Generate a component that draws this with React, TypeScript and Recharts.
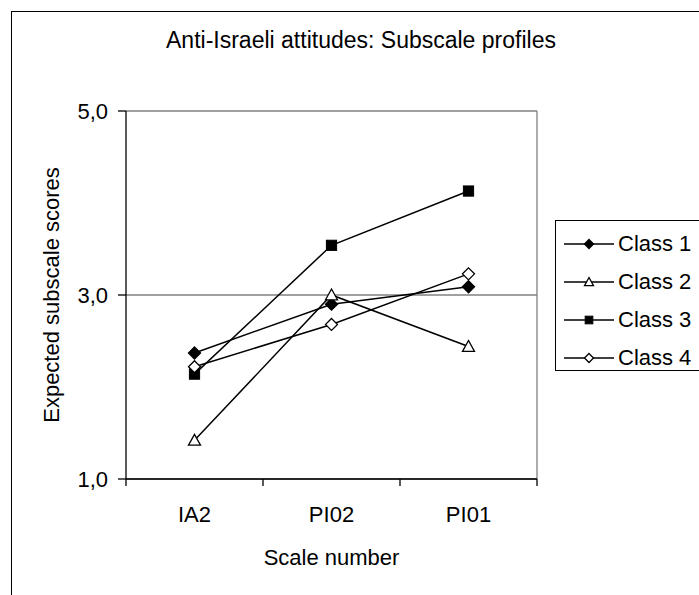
import { LineChart, Line, XAxis, YAxis, CartesianGrid, Legend } from 'recharts';

const categories = ['IA2', 'PI02', 'PI01'];
const class1 = [2.37, 2.9, 3.09];
const class2 = [1.42, 3.0, 2.44];
const class3 = [2.14, 3.54, 4.13];
const class4 = [2.22, 2.68, 3.23];
const yTicks = [1, 3, 5];

const seriesNames = ['Class 1', 'Class 2', 'Class 3', 'Class 4'];

const data = categories.map((c, i) => ({
  name: c,
  'Class 1': class1[i],
  'Class 2': class2[i],
  'Class 3': class3[i],
  'Class 4': class4[i],
}));

const FONT = '"Liberation Sans", Arial, sans-serif';
const W = 699;
const H = 595;
const PLOT_LEFT = 126;
const PLOT_RIGHT = 537;
const PLOT_TOP = 111;
const PLOT_BOTTOM = 479;
const BAND = (PLOT_RIGHT - PLOT_LEFT) / categories.length;

// marker shapes, excel style
function Marker({ kind, cx, cy, s }: { kind: string; cx: number; cy: number; s: number }) {
  if (kind === 'Class 1' || kind === 'Class 4') {
    const pts = `${cx},${cy - s} ${cx + s},${cy} ${cx},${cy + s} ${cx - s},${cy}`;
    return <polygon points={pts} fill={kind === 'Class 1' ? '#000' : '#fff'} stroke="#000" strokeWidth={1.3} />;
  }
  if (kind === 'Class 2') {
    const pts = `${cx},${cy - s} ${cx + s},${cy + s * 0.8} ${cx - s},${cy + s * 0.8}`;
    return <polygon points={pts} fill="#fff" stroke="#000" strokeWidth={1.3} />;
  }
  return <rect x={cx - s * 0.85} y={cy - s * 0.85} width={s * 1.7} height={s * 1.7} fill="#000" stroke="#000" />;
}

const makeDot = (kind: string) => (props: any) => {
  const { cx, cy, index } = props;
  if (cx == null || cy == null) return <g key={index} />;
  return (
    <g key={`${kind}-${index}`}>
      <Marker kind={kind} cx={cx} cy={cy} s={6} />
    </g>
  );
};

function XTick(props: any) {
  const { x, y, payload, index } = props;
  const last = index === categories.length - 1;
  return (
    <g>
      <line x1={x - BAND / 2} y1={y} x2={x - BAND / 2} y2={y + 7} stroke="#000" strokeWidth={1.3} />
      {last && <line x1={x + BAND / 2} y1={y} x2={x + BAND / 2} y2={y + 7} stroke="#000" strokeWidth={1.3} />}
      <text x={x} y={y + 43} textAnchor="middle" fontSize={22} fontFamily={FONT} fill="#000">
        {payload.value}
      </text>
    </g>
  );
}

function LegendBox(props: any) {
  const { payload } = props;
  return (
    <div
      style={{
        border: '1.5px solid #000',
        background: '#fff',
        width: 170,
        height: 151,
        boxSizing: 'border-box',
        paddingTop: 4,
      }}
    >
      {(payload || []).map((p: any) => (
        <div key={p.value} style={{ display: 'flex', alignItems: 'center', height: 38 }}>
          <svg width={62} height={20} style={{ marginLeft: 8 }}>
            <line x1={0} y1={10} x2={50} y2={10} stroke="#000" strokeWidth={1.5} />
            <Marker kind={p.value} cx={25} cy={10} s={4.5} />
          </svg>
          <span style={{ fontSize: 22, fontFamily: FONT, color: '#000', marginLeft: -8 }}>{p.value}</span>
        </div>
      ))}
    </div>
  );
}

export default function App() {
  return (
    <div style={{ position: 'absolute', left: 0, top: 0, width: W, height: H, overflow: 'hidden', background: '#fff' }}>
      <div
        style={{
          position: 'absolute',
          left: 11,
          top: 11,
          width: 800,
          height: 800,
          border: '1.5px solid #000',
        }}
      />
      <div
        style={{
          position: 'absolute',
          left: 0,
          top: 27,
          width: 722,
          textAlign: 'center',
          fontSize: 23,
          fontFamily: FONT,
          color: '#000',
        }}
      >
        Anti-Israeli attitudes: Subscale profiles
      </div>
      <div style={{ position: 'absolute', left: 0, top: 0 }}>
        <LineChart
          width={W}
          height={H}
          data={data}
          margin={{ top: PLOT_TOP, right: W - PLOT_RIGHT, bottom: H - PLOT_BOTTOM - 90, left: PLOT_LEFT - 66 }}
        >
          <CartesianGrid
            stroke="#808080"
            strokeWidth={1.3}
            vertical={true}
            verticalCoordinatesGenerator={({ offset }: any) => [offset.left + offset.width]}
          />
          <XAxis
            dataKey="name"
            scale="band"
            height={90}
            axisLine={{ stroke: '#000', strokeWidth: 1.3 }}
            tickLine={false}
            tickSize={0}
            tickMargin={0}
            tick={<XTick />}
            interval={0}
            label={{
              value: 'Scale number',
              position: 'insideBottom',
              offset: 4,
              fontSize: 22,
              fontFamily: FONT,
              fill: '#000',
            }}
          />
          <YAxis
            width={66}
            domain={[1, 5]}
            ticks={yTicks}
            allowDataOverflow
            axisLine={{ stroke: '#000', strokeWidth: 1.3 }}
            tickLine={{ stroke: '#000', strokeWidth: 1.3 }}
            tickSize={8}
            tickMargin={10}
            tick={{ fontSize: 22, fontFamily: FONT, fill: '#000' }}
            tickFormatter={(v: number) => v.toFixed(1).replace('.', ',')}
            label={{
              value: 'Expected subscale scores',
              angle: -90,
              position: 'left',
              offset: 9,
              fontSize: 22,
              fontFamily: FONT,
              fill: '#000',
              style: { textAnchor: 'middle' },
            }}
          />
          <Legend
            layout="horizontal"
            verticalAlign="middle"
            align="center"
            content={<LegendBox />}
            wrapperStyle={{ position: 'absolute', left: 555, top: 220, width: 170 }}
          />
          {seriesNames.map((n) => (
            <Line
              key={n}
              dataKey={n}
              stroke="#000"
              strokeWidth={1.5}
              dot={makeDot(n)}
              activeDot={false}
              isAnimationActive={false}
            />
          ))}
        </LineChart>
      </div>
    </div>
  );
}
